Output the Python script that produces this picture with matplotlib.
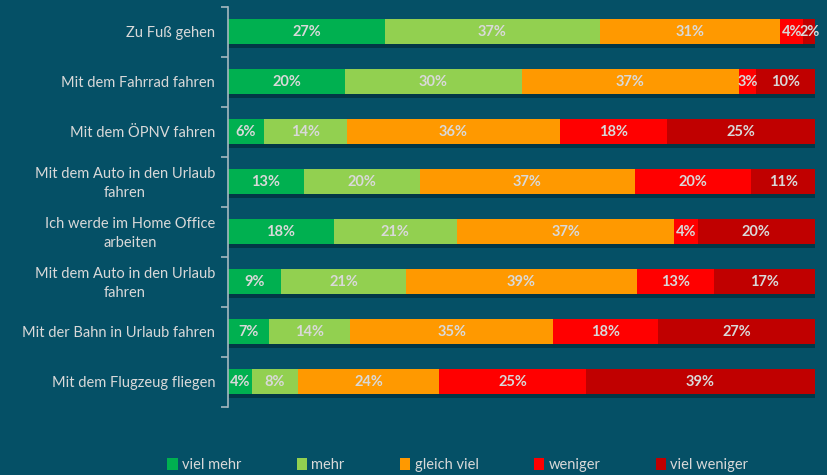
import matplotlib
matplotlib.use("Agg")
import matplotlib.pyplot as plt
import matplotlib.patheffects as pe
from matplotlib.patches import Patch
import numpy as np

plt.rcParams['font.family'] = ['Lato', 'DejaVu Sans']

BG = '#055066'
TXT = '#D9D9D9'

categories = [
    'Zu Fuß gehen',
    'Mit dem Fahrrad fahren',
    'Mit dem ÖPNV fahren',
    'Mit dem Auto in den Urlaub\nfahren',
    'Ich werde im Home Office\narbeiten',
    'Mit dem Auto in den Urlaub\nfahren',
    'Mit der Bahn in Urlaub fahren',
    'Mit dem Flugzeug fliegen',
]
series = ['viel mehr', 'mehr', 'gleich viel', 'weniger', 'viel weniger']
viel_mehr = [27, 20, 6, 13, 18, 9, 7, 4]
mehr = [37, 30, 14, 20, 21, 21, 14, 8]
gleich_viel = [31, 37, 36, 37, 37, 39, 35, 24]
weniger = [4, 3, 18, 20, 4, 13, 18, 25]
viel_weniger = [2, 10, 25, 11, 20, 17, 27, 39]
colors = ['#00B050', '#92D050', '#FF9900', '#FF0000', '#C00000']

values = np.array([viel_mehr, mehr, gleich_viel, weniger, viel_weniger], dtype=float)
shares = values / values.sum(axis=0)

fig = plt.figure(figsize=(8.28, 4.75), dpi=100, facecolor=BG)
ax = fig.add_axes([0.2754, 0.1432, 0.7089, 0.8421], facecolor=BG)

y = np.arange(len(categories))
left = np.zeros(len(categories))
shadow = [pe.SimplePatchShadow(offset=(1, -2.5), shadow_rgbFace='#001a22', alpha=0.45), pe.Normal()]
for k, (name, col) in enumerate(zip(series, colors)):
    bars = ax.barh(y, shares[k], left=left, height=0.5, color=col, label=name)
    for b in bars:
        b.set_path_effects(shadow)
    for i in range(len(categories)):
        ax.text(left[i] + shares[k][i] / 2, y[i], f'{values[k][i]:.0f}%',
                ha='center', va='center', color=TXT, fontsize=10.5, fontweight='bold')
    left += shares[k]

ax.set_xlim(0, 1)
ax.set_ylim(len(categories) - 0.5, -0.5)

# category labels as texts so that two-line labels can be centred
ax.set_yticks(y)
ax.set_yticklabels([])
ax.tick_params(axis='y', which='major', length=0)
trans = ax.get_yaxis_transform()
for yi, lab in zip(y, categories):
    ax.text(-0.022, yi + 0.03, lab, transform=trans, ha='right', va='center',
            multialignment='center', color=TXT, fontsize=10.5, linespacing=1.4)

ax.set_yticks(np.arange(-0.5, len(categories)), minor=True)
ax.tick_params(axis='y', which='minor', length=5, color='#A6B8BF', width=1.2)
ax.set_xticks([])
for s in ['top', 'right', 'bottom']:
    ax.spines[s].set_visible(False)
ax.spines['left'].set_color('#A6B8BF')
ax.spines['left'].set_linewidth(1.2)

handles = [Patch(facecolor=c, label=s) for s, c in zip(series, colors)]
leg = fig.legend(handles=handles, loc='center', bbox_to_anchor=(0.553, 0.022), ncol=5,
                 frameon=False, fontsize=10.5, handlelength=0.7, handleheight=0.9,
                 handletextpad=0.3, columnspacing=3.8)
for t in leg.get_texts():
    t.set_color(TXT)

fig.savefig('out.png', dpi=100, facecolor=BG)
